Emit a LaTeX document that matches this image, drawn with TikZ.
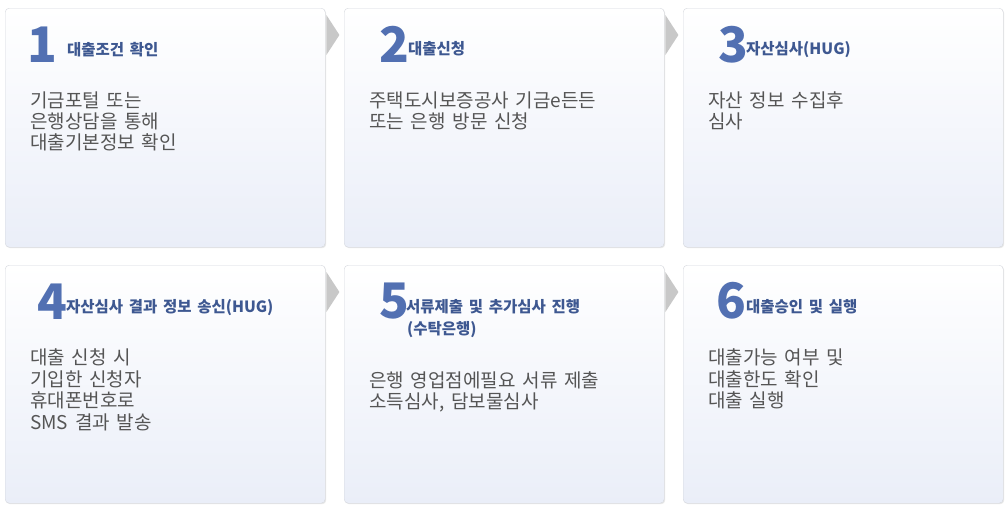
\documentclass[tikz,border=0pt]{standalone}
\usepackage{fontspec}
\setmainfont{Noto Sans CJK KR}
\newfontfamily\bodyfont{Noto Sans CJK KR}[WordSpace=1.9]
\newfontfamily\titlefont{Noto Sans CJK KR}[WordSpace=1.6]
\usepackage{tikz}
\usetikzlibrary{calc, shadows, positioning}

\definecolor{numblue}{RGB}{82,112,178}
\definecolor{titleblue}{RGB}{62,88,145}
\definecolor{bodygray}{RGB}{85,85,85}
\definecolor{cardline}{RGB}{212,215,221}
\definecolor{cardbottom}{RGB}{234,238,248}
\definecolor{arrowgray}{RGB}{200,200,200}

\begin{document}
\begin{tikzpicture}[x=1pt, y=-1pt,
        card/.style={draw=cardline, rounded corners=4pt, top color=white, bottom color=cardbottom,
            minimum width=320pt, minimum height=239pt, anchor=north west, inner sep=0pt,
            drop shadow={opacity=0.18, shadow xshift=1pt, shadow yshift=-1pt}},
        stepnum/.style={anchor=base west, inner sep=0pt, text=numblue, font=\fontsize{49}{49}\selectfont\bfseries},
        steptitle/.style={anchor=base west, inner sep=0pt, text=titleblue, font=\titlefont\fontsize{15.5}{22}\selectfont\bfseries},
        bodyline/.style={anchor=base west, inner sep=0pt, text=bodygray, font=\bodyfont\fontsize{19}{21}\selectfont}]
        \useasboundingbox (0,0) rectangle (1005,509);

        % cards
        \node[card] (c1) at (5,8) {};
        \node[card] (c2) at (344,8) {};
        \node[card] (c3) at (683,8) {};
        \node[card, minimum height=238pt] (c4) at (5,265) {};
        \node[card, minimum height=238pt] (c5) at (344,265) {};
        \node[card, minimum height=238pt] (c6) at (683,265) {};

        % arrows between cards
        \foreach \a in {c1,c2,c4,c5}
            \fill[arrowgray] ($(\a.north east)+(1,7)$) -- ++(13,20) -- ++(-13,20) -- cycle;

        % numbers and titles
        \node[stepnum] (n1) at (27,62) {1};
        \node[steptitle] (t1) at (67,55) {대출조건 확인};
        \node[stepnum] (n2) at (379,62) {2};
        \node[steptitle] (t2) at (408,54) {대출신청};
        \node[stepnum] (n3) at (718,62) {3};
        \node[steptitle] (t3) at (746,54) {자산심사(HUG)};
        \node[stepnum] (n4) at (37,319) {4};
        \node[steptitle] (t4) at (66,312) {자산심사 결과 정보 송신(HUG)};
        \node[stepnum] (n5) at (379,318) {5};
        \node[steptitle] (t5) at (406,312) {서류제출 및 추가심사 진행};
        \node[steptitle] (t5b) at (407,334) {(수탁은행)};
        \node[stepnum] (n6) at (716,318) {6};
        \node[steptitle] (t6) at (746,312) {대출승인 및 실행};

        % body text
        \foreach \t [count=\i] in {기금포털 또는, 은행상담을 통해, 대출기본정보 확인}
            \node[bodyline] (b1-\i) at (30,86+21*\i) {\t};
        \foreach \t [count=\i] in {주택도시보증공사 기금e든든, 또는 은행 방문 신청}
            \node[bodyline] (b2-\i) at (369,86+21*\i) {\t};
        \foreach \t [count=\i] in {자산 정보 수집후, 심사}
            \node[bodyline] (b3-\i) at (708,86+21*\i) {\t};
        \foreach \t [count=\i] in {대출 신청 시, 기입한 신청자, 휴대폰번호로, SMS 결과 발송}
            \node[bodyline] (b4-\i) at (30,343+21.5*\i) {\t};
        \foreach \t [count=\i] in {은행 영업점에필요 서류 제출, {소득심사, 담보물심사}}
            \node[bodyline] (b5-\i) at (369,366+21*\i) {\t};
        \foreach \t [count=\i] in {대출가능 여부 및, 대출한도 확인, 대출 실행}
            \node[bodyline] (b6-\i) at (708,343+21.5*\i) {\t};
\end{tikzpicture}
\end{document}
